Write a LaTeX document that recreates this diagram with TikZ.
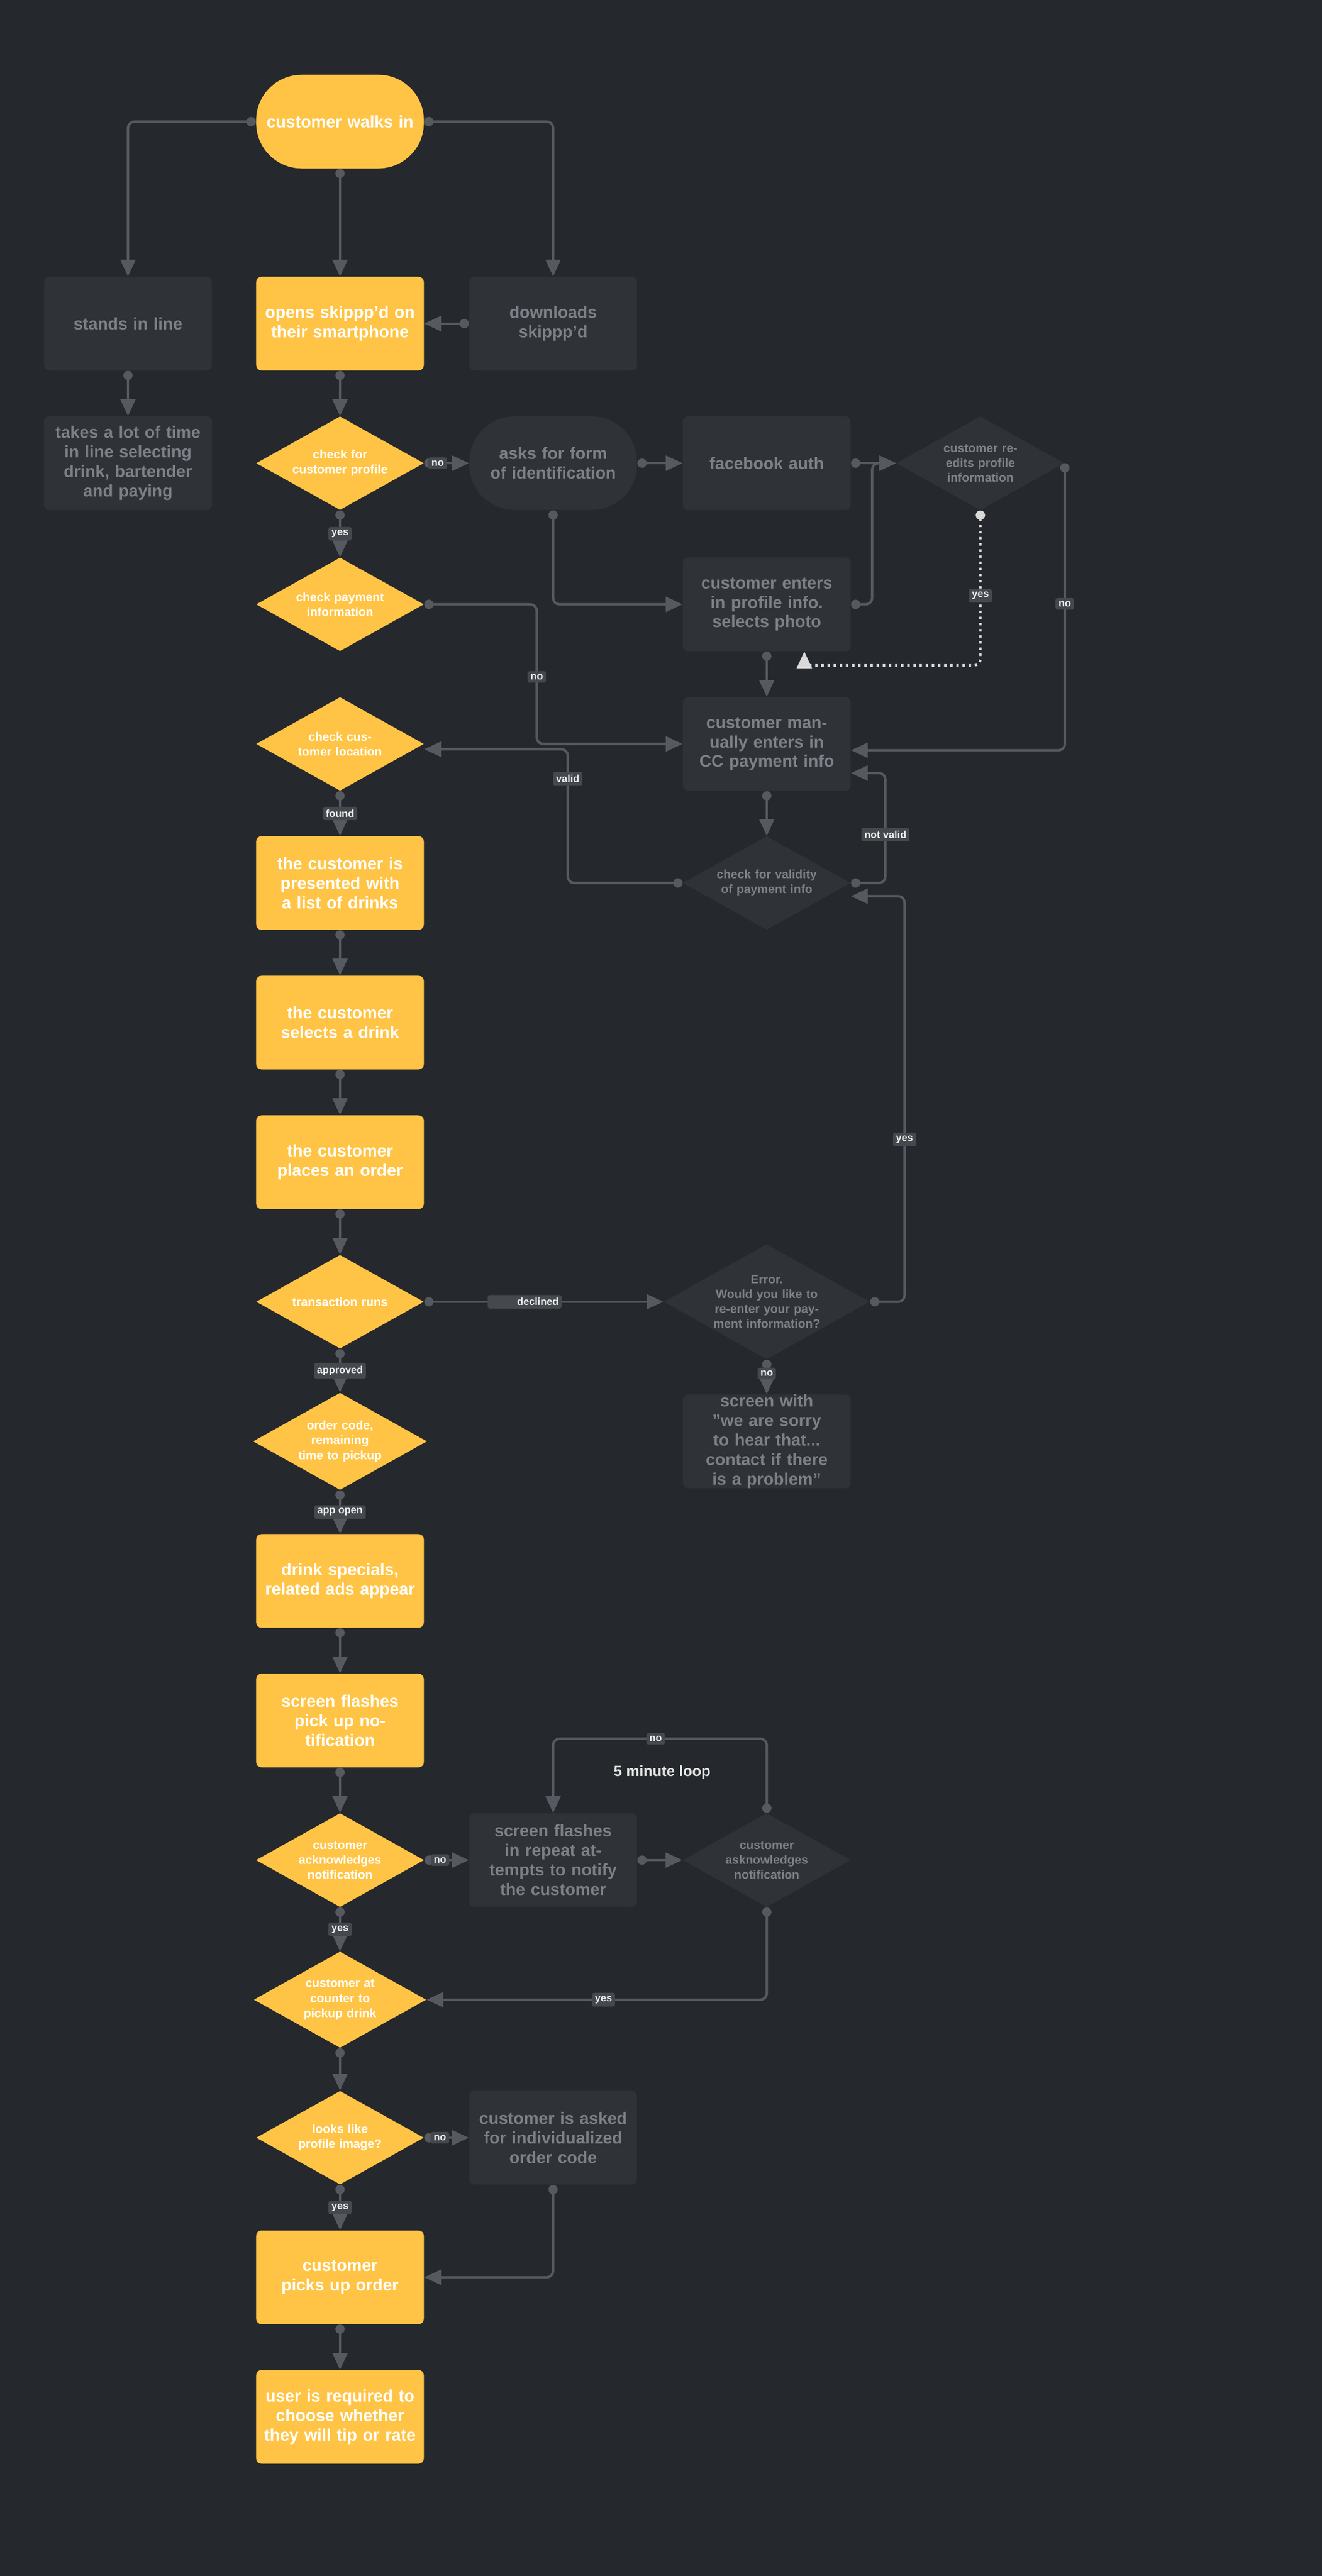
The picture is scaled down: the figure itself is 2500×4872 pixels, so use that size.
\documentclass[tikz,border=0pt]{standalone}
\usepackage{fontspec}
\setmainfont{Liberation Sans}
\usetikzlibrary{shapes.geometric,arrows.meta}
\definecolor{bg}{HTML}{25282C}
\definecolor{gold}{HTML}{FFC445}
\definecolor{slate}{HTML}{2F3237}
\definecolor{dimtext}{HTML}{7C8188}
\definecolor{wire}{HTML}{565A60}
\definecolor{tag}{HTML}{45484D}
\tikzset{
  box/.style={rectangle, rounded corners=0.1cm, minimum width=3.17cm, minimum height=1.77cm,
    text width=2.9cm, align=center, inner sep=0pt, font=\bfseries\fontsize{9}{10.5}\selectfont},
  yel/.style={box, fill=gold, text=white},
  dim/.style={box, fill=slate, text=dimtext},
  pill/.style={rounded corners=0.86cm},
  dia/.style={diamond, aspect=1.79, minimum width=3.17cm, minimum height=1.77cm, inner sep=0pt,
    text width=1.9cm, align=center, font=\bfseries\fontsize{6.5}{8}\selectfont},
  ydia/.style={dia, fill=gold, text=white},
  ddia/.style={dia, fill=slate, text=dimtext},
  link/.style={draw=wire, line width=1.3pt, rounded corners=0.12cm,
    {Circle[length=5pt]}-{Triangle[length=9pt,width=8pt]}},
  lbl/.style={fill=tag, text=white!85!gray, font=\bfseries\fontsize{5.5}{6}\selectfont,
    inner sep=1.6pt, rounded corners=1pt}
}
\begin{document}
\begin{tikzpicture}[x=0.01cm, y=-0.01cm]
  \fill[bg] (0,0) rectangle (2500,4872);
  \useasboundingbox (0,0) rectangle (2500,4872);
  % main column
  \node (start) [yel, pill] at (643,230) {customer walks in};
  \node (opens) [yel] at (643,612) {opens skippp'd on their smartphone};
  \node (chkprof) [ydia] at (643,876) {check for customer profile};
  \node (chkpay) [ydia] at (643,1143) {check payment information};
  \node (locate) [ydia] at (643,1407) {check customer location};
  \node (drinks) [yel] at (643,1670) {the customer is presented with a list of drinks};
  \node (select) [yel] at (643,1934) {the customer selects a drink};
  \node (order) [yel] at (643,2198) {the customer places an order};
  \node (trans) [ydia] at (643,2462) {transaction runs};
  \node (code) [ydia] at (643,2726) {order code, remaining time to pickup};
  \node (ads) [yel] at (643,2990) {drink specials, related ads appear};
  \node (flash) [yel] at (643,3254) {screen flashes pick up notification};
  \node (ack) [ydia] at (643,3518) {customer acknowledges notification};
  \node (counter) [ydia] at (643,3782) {customer at counter to pickup drink};
  \node (looks) [ydia] at (643,4043) {looks like profile image?};
  \node (picks) [yel] at (643,4307) {customer picks up order};
  \node (tip) [yel] at (643,4571) {user is required to choose whether they will tip or rate};
  % side nodes
  \node (line) [dim] at (242,612) {stands in line};
  \node (slow) [dim] at (242,876) {takes a lot of time in line selecting drink, bartender and paying};
  \node (download) [dim] at (1046,612) {downloads skippp'd};
  \node (askid) [dim, pill] at (1046,876) {asks for form of identification};
  \node (fb) [dim] at (1450,876) {facebook auth};
  \node (reedit) [ddia] at (1854,876) {customer re-edits profile information};
  \node (enters) [dim] at (1450,1143) {customer enters in profile info. selects photo};
  \node (manual) [dim] at (1450,1407) {customer manually enters in CC payment info};
  \node (valid) [ddia] at (1450,1670) {check for validity of payment info};
  \node (error) [ddia, text width=2.1cm] at (1450,2462) {Error.\\Would you like to re-enter your payment information?};
  \node (sorry) [dim] at (1450,2726) {screen with "we are sorry to hear that... contact if there is a problem"};
  \node (repeat) [dim] at (1046,3518) {screen flashes in repeat attempts to notify the customer};
  \node (ack2) [ddia] at (1450,3518) {customer asknowledges notification};
  \node (askcode) [dim] at (1046,4043) {customer is asked for individualized order code};
  \node (loop) [text=white!80!gray, font=\bfseries\fontsize{8}{9}\selectfont] at (1252,3352) {5 minute loop};
  % connectors
  \draw[link] (start.west) -| (line.north);
  \draw[link] (start.east) -| (download.north);
  \draw[link] (start) -- (opens);
  \draw[link] (download) -- (opens);
  \draw[link] (line) -- (slow);
  \draw[link] (opens) -- (chkprof);
  \draw[link] (chkprof.east) -- node[lbl, pos=.3] {no} (askid.west);
  \draw[link] (chkprof) -- node[lbl] {yes} (chkpay);
  \draw[link] (askid) -- (fb);
  \draw[link] (askid.south) |- (enters.west);
  \draw[link] (fb.east) -- (reedit.west);
  \draw[link] (enters.east) -- ++(40,0) |- (reedit.west);
  \draw[link, dotted, draw=white!70!gray] (reedit.south) -- node[lbl, pos=.55] {yes} ++(0,293) -| ([xshift=0.71cm]enters.south);
  \draw[link] (reedit.east) |- node[lbl, pos=.245] {no} ([yshift=-0.12cm]manual.east);
  \draw[link] (enters) -- (manual);
  \draw[link] (chkpay.east) -| node[lbl, pos=.76] {no} (1015,1407) -- (manual.west);
  \draw[link] (manual) -- (valid);
  \draw[link] (valid.west) -- ++(-217,0) |- node[lbl, pos=.39] {valid} ([yshift=-0.1cm]locate.east);
  \draw[link] (valid.east) -- ++(65,0) |- node[lbl, pos=.22] {not valid} ([yshift=-0.55cm]manual.east);
  \draw[link] (locate) -- node[lbl] {found} (drinks);
  \draw[link] (drinks) -- (select);
  \draw[link] (select) -- (order);
  \draw[link] (order) -- (trans);
  \draw[link] (trans.east) -- node[lbl, pos=.42] {\hspace{0.5cm}declined\hspace{0.5cm}} (error.west);
  \draw[link] (error.east) -- ++(65,0) |- node[lbl, pos=.2] {yes} ([yshift=-0.25cm]valid.east);
  \draw[link] (error) -- node[lbl, pos=.4] {no} (sorry);
  \draw[link] (trans) -- node[lbl] {approved} (code);
  \draw[link] (code) -- node[lbl] {app open} (ads);
  \draw[link] (ads) -- (flash);
  \draw[link] (flash) -- (ack);
  \draw[link] (ack.east) -- node[lbl, pos=.35] {no} (repeat.west);
  \draw[link] (repeat) -- (ack2);
  \draw[link] (ack2.north) -- ++(0,-140) -| node[lbl, pos=.26] {no} (repeat.north);
  \draw[link] (ack2.south) |- node[lbl, pos=.74] {yes} (counter.east);
  \draw[link] (ack) -- node[lbl] {yes} (counter);
  \draw[link] (counter) -- (looks);
  \draw[link] (looks.east) -- node[lbl, pos=.35] {no} (askcode.west);
  \draw[link] (looks) -- node[lbl] {yes} (picks);
  \draw[link] (askcode.south) |- (picks.east);
  \draw[link] (picks) -- (tip);
\end{tikzpicture}
\end{document}
